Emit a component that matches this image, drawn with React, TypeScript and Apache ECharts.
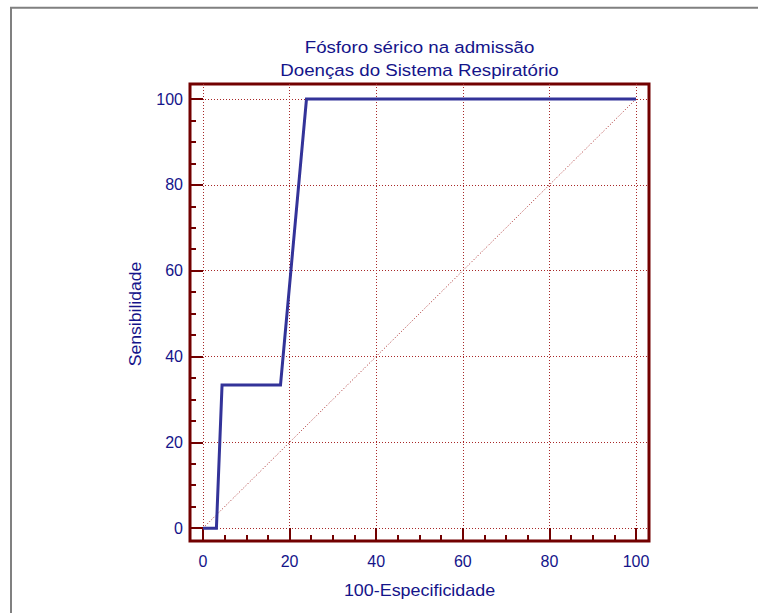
import React, { useEffect, useRef } from "react";
import * as echarts from "echarts";

// ROC curve points (100 - specificity, sensitivity)
const rocFpr = [0, 3.1, 4.4, 17.9, 23.9, 100];
const rocSens = [0, 0, 33.33, 33.33, 100, 100];

// chance diagonal
const diagX = [0, 100];
const diagY = [0, 100];

const majorTicks = [0, 20, 40, 60, 80, 100];
const minorTicks = [5, 10, 15, 25, 30, 35, 45, 50, 55, 65, 70, 75, 85, 90, 95];

const titleLines = ["Fósforo sérico na admissão", "Doenças do Sistema Respiratório"];
const xName = "100-Especificidade";
const yName = "Sensibilidade";

const FONT = '"Liberation Sans", Arial, Helvetica, sans-serif';
const TEXT = "#14148a";
const FRAME = "#720000";
const GRIDC = "#a82828";
const CURVE = "#333399";

const labelFmt = (v: number) => (v < 0 || v > 100 ? "" : String(Math.round(v)));

function baseAxis(min: number, max: number, position: string) {
  return {
    type: "value",
    gridIndex: 0,
    position,
    min,
    max,
    splitNumber: 5,
    axisLine: { show: false, onZero: false },
  };
}

export default function App() {
  const ref = useRef<HTMLDivElement>(null);

  useEffect(() => {
    if (!ref.current) return;
    const chart = echarts.init(ref.current, null, { renderer: "svg" });

    const majorX = {
      ...baseAxis(-3, 103, "bottom"),
      axisTick: { show: true, inside: true, length: 13, customValues: majorTicks, lineStyle: { color: FRAME, width: 2 } },
      axisLabel: { show: true, customValues: majorTicks, formatter: labelFmt, margin: 12, color: TEXT, fontSize: 16, fontFamily: FONT },
      splitLine: { show: true, lineStyle: { color: GRIDC, width: 1, type: [1, 2] } },
    };
    const minorX = {
      ...baseAxis(-3, 103, "bottom"),
      axisTick: { show: true, inside: true, length: 6, customValues: minorTicks, lineStyle: { color: FRAME, width: 2 } },
      axisLabel: { show: false },
      splitLine: { show: false },
    };
    const majorY = {
      ...baseAxis(-3, 103.5, "left"),
      axisTick: { show: true, inside: true, length: 13, customValues: majorTicks, lineStyle: { color: FRAME, width: 2 } },
      axisLabel: { show: true, customValues: majorTicks, formatter: labelFmt, margin: 7, color: TEXT, fontSize: 16, fontFamily: FONT },
      splitLine: { show: true, lineStyle: { color: GRIDC, width: 1, type: [1, 2] } },
    };
    const minorY = {
      ...baseAxis(-3, 103.5, "left"),
      axisTick: { show: true, inside: true, length: 6, customValues: minorTicks, lineStyle: { color: FRAME, width: 2 } },
      axisLabel: { show: false },
      splitLine: { show: false },
    };

    chart.setOption({
      animation: false,
      backgroundColor: "#ffffff",
      grid: {
        left: 190,
        top: 84,
        width: 459,
        height: 457,
        show: true,
        borderColor: FRAME,
        borderWidth: 3,
        backgroundColor: "transparent",
        containLabel: false,
        outerBoundsMode: "none",
      },
      xAxis: [majorX, minorX],
      yAxis: [majorY, minorY],
      series: [
        {
          type: "line",
          xAxisIndex: 0,
          yAxisIndex: 0,
          data: diagX.map((x, i) => [x, diagY[i]]),
          symbol: "none",
          silent: true,
          lineStyle: { color: GRIDC, width: 1, type: [1, 2] },
          z: 2,
        },
        {
          type: "line",
          xAxisIndex: 0,
          yAxisIndex: 0,
          data: rocFpr.map((x, i) => [x, rocSens[i]]),
          symbol: "none",
          silent: true,
          lineStyle: { color: CURVE, width: 3, join: "miter" },
          z: 3,
        },
      ],
      graphic: [
        {
          type: "rect",
          silent: true,
          shape: { x: 11, y: 7.7, width: 800, height: 700 },
          style: { fill: "none", stroke: "#808080", lineWidth: 2 },
          z: -1,
        },
        {
          type: "text",
          x: 419.5,
          y: 47,
          scaleX: 1.1,
          silent: true,
          style: { text: titleLines[0], fill: TEXT, fontSize: 17, fontFamily: FONT, align: "center", verticalAlign: "middle" },
        },
        {
          type: "text",
          x: 419.5,
          y: 70,
          scaleX: 1.1,
          silent: true,
          style: { text: titleLines[1], fill: TEXT, fontSize: 17, fontFamily: FONT, align: "center", verticalAlign: "middle" },
        },
        {
          type: "text",
          x: 419.5,
          y: 591,
          scaleX: 1.12,
          silent: true,
          style: { text: xName, fill: TEXT, fontSize: 16, fontFamily: FONT, align: "center", verticalAlign: "middle" },
        },
        {
          type: "text",
          x: 136,
          y: 314,
          rotation: Math.PI / 2,
          scaleX: 1.1,
          silent: true,
          style: { text: yName, fill: TEXT, fontSize: 16, fontFamily: FONT, align: "center", verticalAlign: "middle" },
        },
      ],
    });

    return () => chart.dispose();
  }, []);

  return (
    <div
      ref={ref}
      style={{ position: "fixed", left: 0, top: 0, width: 758, height: 613, background: "#fff" }}
    />
  );
}
